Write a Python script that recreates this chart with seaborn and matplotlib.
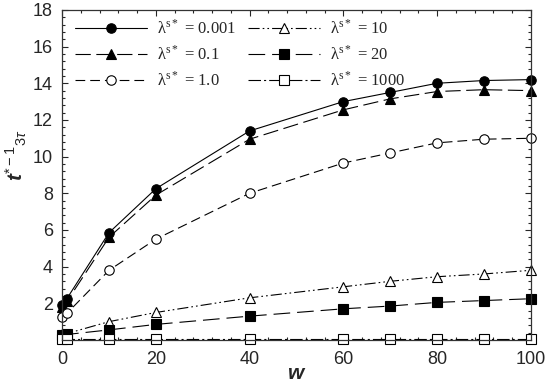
import matplotlib
matplotlib.use("Agg")
import matplotlib.pyplot as plt
import seaborn as sns
import numpy as np
import pandas as pd
from matplotlib.ticker import MultipleLocator

# ---- data ----
w = [0, 1, 10, 20, 40, 60, 70, 80, 90, 100]
labels = ["0.001", "0.1", "1.0", "10", "20", "1000"]
y_0001 = [1.9, 2.25, 5.85, 8.25, 11.4, 13.0, 13.5, 14.0, 14.15, 14.2]
y_01 = [1.8, 2.1, 5.6, 7.9, 10.95, 12.55, 13.15, 13.55, 13.65, 13.6]
y_1 = [1.25, 1.45, 3.8, 5.5, 8.0, 9.65, 10.2, 10.75, 10.95, 11.0]
y_10 = [0.3, 0.35, 1.0, 1.5, 2.3, 2.9, 3.2, 3.45, 3.6, 3.8]
y_20 = [0.25, 0.3, 0.55, 0.85, 1.3, 1.7, 1.85, 2.05, 2.15, 2.25]
y_1000 = [0.08, 0.08, 0.08, 0.08, 0.08, 0.08, 0.08, 0.08, 0.08, 0.08]
series = [y_0001, y_01, y_1, y_10, y_20, y_1000]

sns.set_style("ticks")
plt.rcParams["font.family"] = ["Liberation Sans", "DejaVu Sans"]
plt.rcParams["mathtext.fontset"] = "custom"
plt.rcParams["mathtext.rm"] = "Liberation Serif"
plt.rcParams["mathtext.sf"] = "Liberation Sans"
plt.rcParams["mathtext.it"] = "Liberation Sans:italic"
plt.rcParams["mathtext.bf"] = "Liberation Sans:bold"
plt.rcParams["mathtext.bfit"] = "Liberation Sans:bold:italic"
plt.rcParams["lines.scale_dashes"] = False

markers = ["o", "^", "o", "^", "s", "s"]
faces = ["black", "black", "white", "white", "black", "white"]
dashes = [None, (11, 4), (7, 3.6), (8, 2.2, 1.2, 2.2, 1.2, 2.2), (12, 5), (9, 2.2, 1.5, 2.2)]

fig = plt.figure(figsize=(5.5, 3.82), dpi=100)
ax = fig.add_axes([0.113, 0.11, 0.852, 0.864])

handles = []
for ys, lab, m, fc, d in zip(series, labels, markers, faces, dashes):
    df = pd.DataFrame({"w": w, "t": ys})
    sns.lineplot(data=df, x="w", y="t", ax=ax, color="black", linewidth=0.8,
                 marker=m, markersize=6.8, markerfacecolor=fc, markeredgecolor="black",
                 markeredgewidth=0.8, clip_on=False, legend=False)
    line = ax.lines[-1]
    if d is not None:
        line.set_dashes(d)
    line.set_label("λ$^{\\mathrm{s*}}$ = " + lab)
    handles.append(line)

ax.set_xlim(0, 100)
ax.set_ylim(0, 18)
ax.xaxis.set_major_locator(MultipleLocator(20))
ax.xaxis.set_minor_locator(MultipleLocator(4))
ax.yaxis.set_major_locator(MultipleLocator(2))
ax.yaxis.set_minor_locator(MultipleLocator(0.4))
ax.set_yticks([2, 4, 6, 8, 10, 12, 14, 16, 18])
ax.tick_params(which="both", direction="in", top=True, right=True, labelsize=13, width=0.8)
ax.tick_params(which="major", length=4)
ax.tick_params(which="minor", length=2.5)
ax.tick_params(axis="x", which="major", pad=8)
ax.tick_params(axis="y", which="major", pad=6.5)
for sp in ax.spines.values():
    sp.set_linewidth(0.9)
    sp.set_color("#333333")

ax.set_xlabel("w", fontsize=15, fontweight="bold", fontstyle="italic")
ax.xaxis.set_label_coords(0.5, -0.072)
ax.xaxis.label.set_va("top")
ax.set_ylabel(r"$\mathbfit{t}^{\mathsf{*-1}}{}_{\mathsf{3}\tau}$", fontsize=15)
ax.yaxis.set_label_coords(-0.07, 0.56)

leg = ax.legend(handles=handles, ncol=2, loc="upper left", bbox_to_anchor=(0.013, 0.993),
                borderaxespad=0, frameon=False, handlelength=4.3, handletextpad=0.6,
                columnspacing=0.75, labelspacing=0.45,
                prop={"family": "Liberation Serif", "size": 12})

fig.savefig("out.png", dpi=100)
